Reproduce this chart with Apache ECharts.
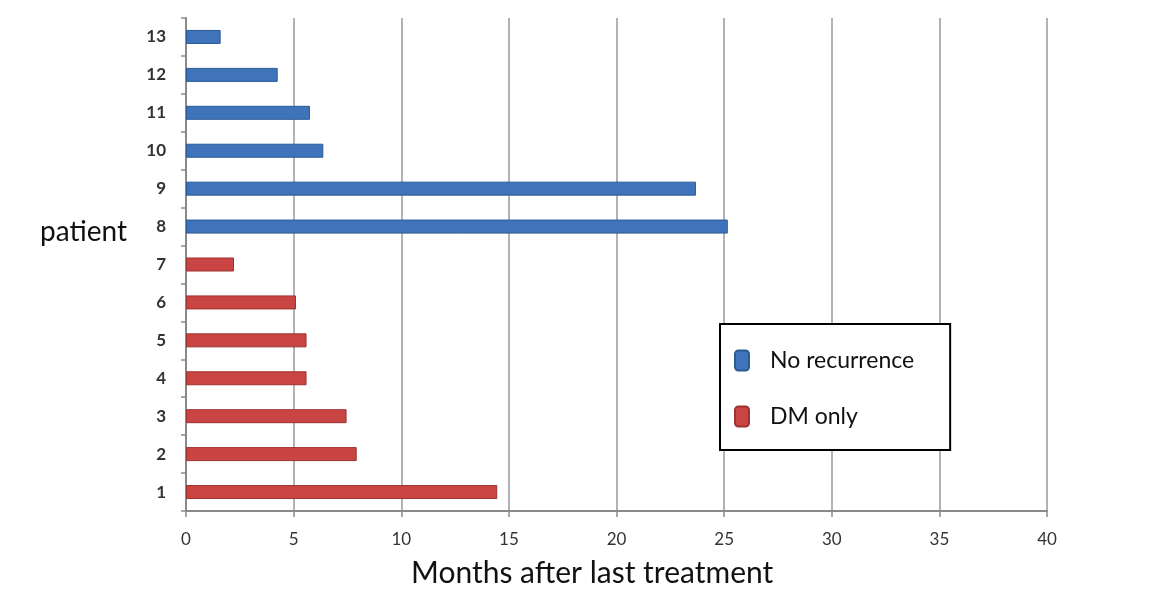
<!DOCTYPE html>
<html>
<head>
<meta charset="utf-8">
<script src="https://cdn.jsdelivr.net/npm/echarts@6/dist/echarts.min.js"></script>
<style>
html,body{margin:0;padding:0;background:#fff;}
#chart{width:1156px;height:596px;}
</style>
</head>
<body>
<div id="chart"></div>
<script>
const patients = ['1','2','3','4','5','6','7','8','9','10','11','12','13'];
const noRecurrence = [null,null,null,null,null,null,null,25.17,23.69,6.38,5.76,4.26,1.61];
const dmOnly = [14.46,7.93,7.46,5.6,5.6,5.11,2.23,null,null,null,null,null,null];
const xTicks = [0,5,10,15,20,25,30,35,40];

const FONT = 'Lato, "Open Sans", sans-serif';
const chart = echarts.init(document.getElementById('chart'));
chart.setOption({
  animation: false,
  backgroundColor: '#fff',
  grid: {left: 186, right: 109, top: 18, bottom: 85, containLabel: false},
  legend: {
    orient: 'vertical',
    left: 720, top: 324,
    padding: [25, 36, 22, 14],
    itemGap: 33,
    itemWidth: 14, itemHeight: 20,
    icon: 'roundRect',
    borderColor: '#000', borderWidth: 2,
    backgroundColor: '#fff',
    textStyle: {fontFamily: FONT, fontSize: 23, lineHeight: 20, color: '#111', padding: [0,0,0,16]},
    data: ['No recurrence', 'DM only']
  },
  xAxis: {
    type: 'value', min: xTicks[0], max: xTicks[xTicks.length-1], interval: 5,
    axisLine: {show: true, lineStyle: {color: '#8a8a8a', width: 2}},
    axisTick: {show: true, length: 6, lineStyle: {color: '#8a8a8a', width: 1.5}},
    axisLabel: {fontFamily: FONT, fontSize: 17, color: '#333', margin: 20},
    splitLine: {show: true, lineStyle: {color: '#9a9a9a', width: 1.5}}
  },
  yAxis: {
    type: 'category', data: patients,
    axisLine: {show: true, lineStyle: {color: '#8a8a8a', width: 2}},
    axisTick: {show: true, length: 5, lineStyle: {color: '#8a8a8a', width: 1.5}},
    axisLabel: {fontFamily: FONT, fontSize: 17, fontWeight: 'bold', color: '#333', margin: 20},
    splitLine: {show: false}
  },
  graphic: [{
    type: 'text', left: 40, top: 218,
    style: {text: 'patient', fontFamily: FONT, fontSize: 28, fill: '#111'}
  }, {
    type: 'text', left: 411, top: 558,
    style: {text: 'Months after last treatment', fontFamily: FONT, fontSize: 30, fill: '#111'}
  }],
  series: [
    {name: 'No recurrence', type: 'bar', stack: 'a', data: noRecurrence, barWidth: 14,
     itemStyle: {color: '#3f74bb', borderColor: '#2c5a96', borderWidth: 1}},
    {name: 'DM only', type: 'bar', stack: 'a', data: dmOnly, barWidth: 14,
     itemStyle: {color: '#c94544', borderColor: '#9c3231', borderWidth: 1}}
  ]
});
</script>
</body>
</html>
